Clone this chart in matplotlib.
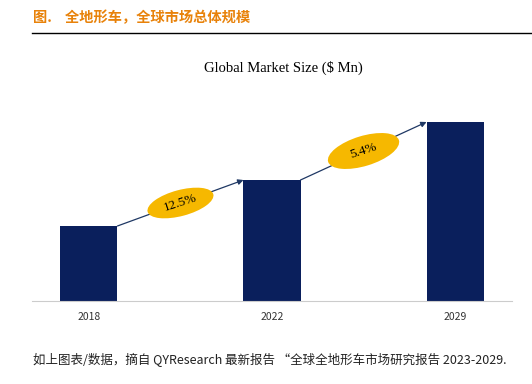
import numpy as np
import matplotlib.pyplot as plt
from matplotlib.patches import Ellipse
import matplotlib.transforms as mtransforms

plt.rcParams['font.family'] = ['Noto Sans CJK SC', 'DejaVu Sans']

years = ['2018', '2022', '2029']
market_size = [75, 121, 179]
growth = ['12.5%', '5.4%']

title = '图.    全地形车，全球市场总体规模'
chart_title = 'Global Market Size ($ Mn)'
footer = '如上图表/数据，摘自 QYResearch 最新报告 “全球全地形车市场研究报告 2023-2029.'

navy = '#0A1F5C'
gold = '#F6B800'
orange = '#E8820A'

fig = plt.figure(figsize=(5.32, 3.84), dpi=100)

# header
fig.text(33 / 532, 1 - 18 / 384, title, color=orange, fontsize=10.3,
         fontweight='bold', va='center', ha='left')
fig.add_artist(plt.Line2D([32 / 532, 1], [1 - 33 / 384] * 2, color='black', lw=1))

fig.text(283 / 532, 1 - 68 / 384, chart_title, fontsize=10.5,
         family='Liberation Serif', ha='center', va='center')

ax = fig.add_axes([32 / 532, 1 - 301 / 384, 480 / 532, 201 / 384])
x = np.arange(len(years))
w = 57 / 183
ax.bar(x, market_size, width=w, color=navy)
ax.set_xlim(-0.311, 2.311)
ax.set_ylim(0, 201)
ax.set_xticks(x)
ax.set_xticklabels(years, fontsize=7.5, color='#333333')
ax.tick_params(axis='x', length=0, pad=8)
ax.set_yticks([])
for s in ['top', 'right', 'left']:
    ax.spines[s].set_visible(False)
ax.spines['bottom'].set_color('#cccccc')
ax.spines['bottom'].set_linewidth(0.8)

# growth arrows with rate ellipses
ell_size = [(0.68, 0.26), (0.74, 0.30)]
ell_angle = [15, 17]
txt_rot = [18, 18]
for i in range(len(growth)):
    x0, y0 = x[i] + w / 2, market_size[i]
    x1, y1 = x[i + 1] - w / 2, market_size[i + 1]
    ax.annotate('', xy=(x1, y1), xytext=(x0, y0),
                arrowprops=dict(arrowstyle='-|>', color='#1F3864', lw=0.9,
                                mutation_scale=8, shrinkA=0, shrinkB=0))
    xc, yc = (x0 + x1) / 2, (y0 + y1) / 2
    tr = fig.dpi_scale_trans + mtransforms.ScaledTranslation(xc, yc, ax.transData)
    ax.add_patch(Ellipse((0, 0), ell_size[i][0], ell_size[i][1], angle=ell_angle[i],
                         transform=tr, fc=gold, ec='none', zorder=3))
    ax.text(xc, yc, growth[i], fontsize=9.5, family='Liberation Serif',
            ha='center', va='center', rotation=txt_rot[i],
            rotation_mode='anchor', zorder=4)

fig.text(33 / 532, 1 - 360 / 384, footer, fontsize=9, color='#222222',
         va='center', ha='left', style='italic')

fig.savefig('out.png', dpi=100)
